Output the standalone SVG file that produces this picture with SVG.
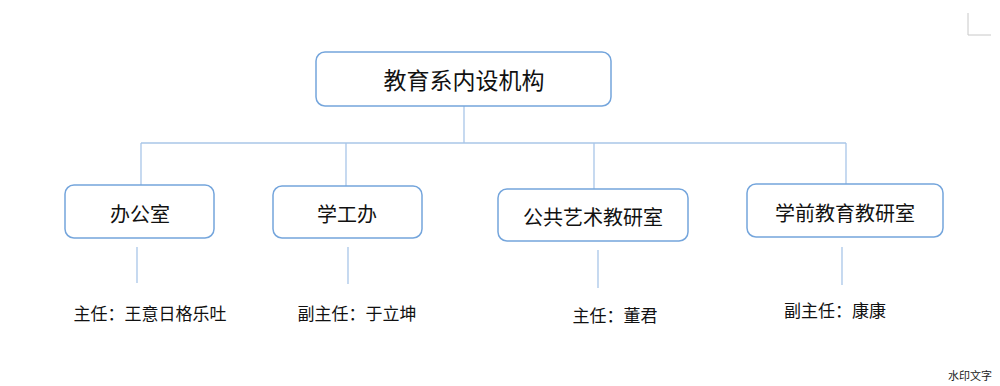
<svg xmlns="http://www.w3.org/2000/svg" width="1000" height="386" viewBox="0 0 1000 386">
<style>
.box{fill:#fff;stroke:#74a5dc;stroke-width:1.5}
.ln{stroke:#a9c6e8;stroke-width:1.3;fill:none}
.t{font-family:"Noto Sans CJK SC","Noto Sans",sans-serif;fill:#111;text-anchor:middle;dominant-baseline:central}
.big{font-size:23px}
.mid{font-size:20px}
.sm{font-size:17px}
</style>
<rect width="1000" height="386" fill="#fff"/>
<path d="M968 13V35H991" stroke="#c8c8c8" stroke-width="1" fill="none"/>
<g id="connectors">
<path class="ln" d="M464 106V143M141 143H846M141 143V185M346 143V186M594 143V189M846 143V184"/>
<path class="ln" d="M137 247V283M348 247V284M598 250V288M842 247V285"/>
</g>
<g id="root"><rect class="box" x="316" y="52" width="295" height="54" rx="9"/><text class="t big" x="464" y="79">教育系内设机构</text></g>
<g id="n1"><rect class="box" x="65" y="185" width="149" height="53" rx="9"/><text class="t mid" x="140" y="213">办公室</text></g>
<g id="n2"><rect class="box" x="273" y="186" width="149" height="52" rx="9"/><text class="t mid" x="347" y="213">学工办</text></g>
<g id="n3"><rect class="box" x="498" y="189" width="190" height="52" rx="9"/><text class="t mid" x="593" y="216">公共艺术教研室</text></g>
<g id="n4"><rect class="box" x="747" y="184" width="196" height="53" rx="9"/><text class="t mid" x="845" y="212">学前教育教研室</text></g>
<g id="labels">
<text class="t sm" x="150" y="312">主任：王意日格乐吐</text>
<text class="t sm" x="357" y="312">副主任：于立坤</text>
<text class="t sm" x="615" y="314">主任：董君</text>
<text class="t sm" x="835" y="309">副主任：康康</text>
</g>
<text x="970" y="375" font-family="Noto Sans CJK SC,sans-serif" font-size="11" fill="#222" text-anchor="middle" dominant-baseline="central">水印文字</text>
</svg>
